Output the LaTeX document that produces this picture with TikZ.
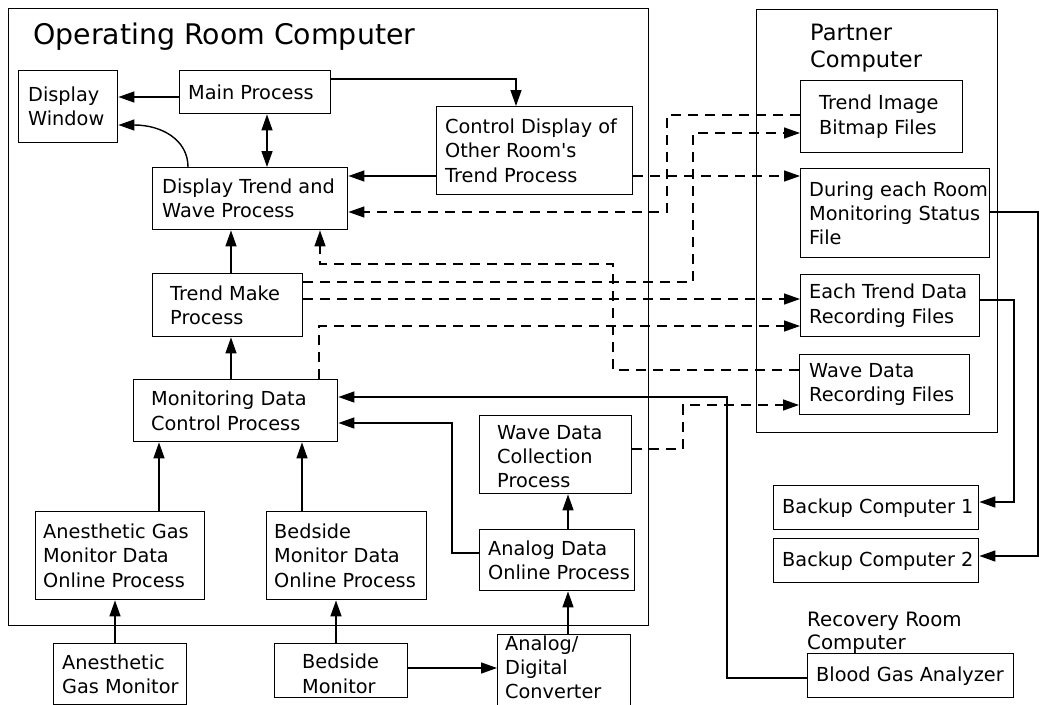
\documentclass[tikz,border=0pt]{standalone}
\usepackage{fontspec}
\setmainfont{DejaVu Sans}
\usetikzlibrary{arrows.meta}

\tikzset{
  box/.style={draw, line width=1.4pt, inner sep=0pt, anchor=north west},
  txt/.style={inner sep=0pt, align=left, font=\fontsize{19.3}{24.2}\selectfont},
  tip/.tip={Triangle[length=16pt,width=11pt]},
  conn/.style={line width=1.4pt, -tip},
  dconn/.style={conn, dash pattern=on 10pt off 7pt},
  biconn/.style={line width=1.4pt, tip-tip},
  grouplabel/.style={inner sep=0pt, align=left},
}

% \procbox[text options]{name}{x1}{y1}{x2}{y2}{left padding}{text}
\newcommand\procbox[8][]{%
  \node[box, minimum width={#5-#3}, minimum height={#6-#4}] (#2) at (#3,#4) {};
  \node[txt, anchor=west, #1] at ([xshift=#7pt]#2.west) {#8};
}

\begin{document}
\begin{tikzpicture}[x=1pt, y=-1pt]
\useasboundingbox (0,0) rectangle (1040,704);
\clip (0,0) rectangle (1040,704);
\fill[white] (0,0) rectangle (1040,704);

% computer frames
\node[box, minimum width=640, minimum height=617] (orc) at (8,8) {};
\node[anchor=base west, inner sep=0pt, font=\fontsize{28.4}{34}\selectfont] (orctitle) at (33,44) {Operating Room Computer};
\node[box, minimum width=241, minimum height=423] (partner) at (756,9) {};
\node[grouplabel, anchor=north west, font=\fontsize{22.5}{27}\selectfont] (partnertitle) at (810,24) {Partner\\Computer};
\node[grouplabel, anchor=north west, font=\fontsize{19.8}{23}\selectfont] (recoverytitle) at (807,612) {Recovery Room\\Computer};

% operating room processes
\procbox{dispwin}{18}{70}{117}{142}{10}{Display\\Window}
\procbox{mainp}{179}{70}{330}{113}{9}{Main Process}
\procbox{ctrl}{436}{106}{632}{194}{9}{Control Display of\\Other Room\textquotesingle s\\Trend Process}
\procbox{trendwave}{152}{167}{347}{229}{10}{Display Trend and\\Wave Process}
\procbox{trendmake}{152}{273}{302}{336}{18}{Trend Make\\Process}
\procbox{mondata}{133}{379}{337}{441}{18}{Monitoring Data\\Control Process}
\procbox[yshift=-2pt]{wavecol}{479}{415}{631}{493}{18}{Wave Data\\Collection\\Process}
\procbox{anesonline}{35}{511}{204}{599}{8}{Anesthetic Gas\\Monitor Data\\Online Process}
\procbox{bedonline}{266}{511}{426}{599}{8}{Bedside\\Monitor Data\\Online Process}
\procbox{analogonline}{479}{529}{634}{590}{9}{Analog Data\\Online Process}

% devices
\procbox{anesmon}{53}{643}{186}{704}{9}{Anesthetic\\Gas Monitor}
\procbox[yshift=-3pt]{bedmon}{274}{643}{407}{697}{28}{Bedside\\Monitor}
\procbox[yshift=6.5pt]{adconv}{497}{634}{630}{712}{8}{Analog/\\Digital\\Converter}

% partner computer files
\procbox{trendimg}{800}{80}{962}{152}{19}{Trend Image\\Bitmap Files}
\procbox{during}{800}{168}{989}{257}{9}{During each Room\\Monitoring Status\\File}
\procbox{eachtrend}{800}{274}{979}{336}{9}{Each Trend Data\\Recording Files}
\procbox{waverec}{799}{354}{969}{414}{10}{Wave Data\\Recording Files}

% other computers
\procbox{bc1}{773}{485}{978}{529}{9}{Backup Computer 1}
\procbox{bc2}{773}{538}{978}{582}{9}{Backup Computer 2}
\procbox{bga}{807}{653}{1013}{697}{9}{Blood Gas Analyzer}

% solid connectors
\draw[conn] (mainp.west |- 0,97) -- (dispwin.east |- 0,97);
\draw[conn] (trendwave.north -| 188,0) .. controls (188,140) and (162,125) .. (dispwin.east |- 0,125);
\draw[biconn] (mainp.south -| 267,0) -- (trendwave.north -| 267,0);
\draw[conn] (mainp.east |- 0,79) -| (ctrl.north -| 516,0);
\draw[conn] (ctrl.west |- 0,176) -- (trendwave.east |- 0,176);
\draw[conn] (trendmake.north -| 231,0) -- (trendwave.south -| 231,0);
\draw[conn] (mondata.north -| 231,0) -- (trendmake.south -| 231,0);
\draw[conn] (anesonline.north -| 159,0) -- (mondata.south -| 159,0);
\draw[conn] (bedonline.north -| 302,0) -- (mondata.south -| 302,0);
\draw[conn] (anesmon.north -| 115,0) -- (anesonline.south -| 115,0);
\draw[conn] (bedmon.north -| 336,0) -- (bedonline.south -| 336,0);
\draw[conn] (bedmon.east |- 0,668) -- (adconv.west |- 0,668);
\draw[conn] (adconv.north -| 568,0) -- (analogonline.south -| 568,0);
\draw[conn] (analogonline.north -| 568,0) -- (wavecol.south -| 568,0);
\draw[conn] (analogonline.west |- 0,553) -| (452,423) -- (mondata.east |- 0,423);
\draw[conn] (bga.west |- 0,678) -| (727,397) -- (mondata.east |- 0,397);
\draw[conn] (during.east |- 0,212) -| (1038,556) -- (bc2.east |- 0,556);
\draw[conn] (eachtrend.east |- 0,300) -| (1014,502) -- (bc1.east |- 0,502);

% dashed connectors (file traffic)
\draw[dconn] (ctrl.east |- 0,176) -- (during.west |- 0,176);
\draw[dconn] (trendimg.west |- 0,115) -| (667,212) -- (trendwave.east |- 0,212);
\draw[dconn] (trendmake.east |- 0,282) -| (693,133) -- (trendimg.west |- 0,133);
\draw[dconn] (trendmake.east |- 0,299) -- (eachtrend.west |- 0,299);
\draw[dconn] (mondata.north -| 319,0) |- (eachtrend.west |- 0,326);
\draw[dconn] (waverec.west |- 0,370) -| (613,264) -| (trendwave.south -| 320,0);
\draw[dconn] (wavecol.east |- 0,449) -| (683,405) -- (waverec.west |- 0,405);
\end{tikzpicture}
\end{document}
